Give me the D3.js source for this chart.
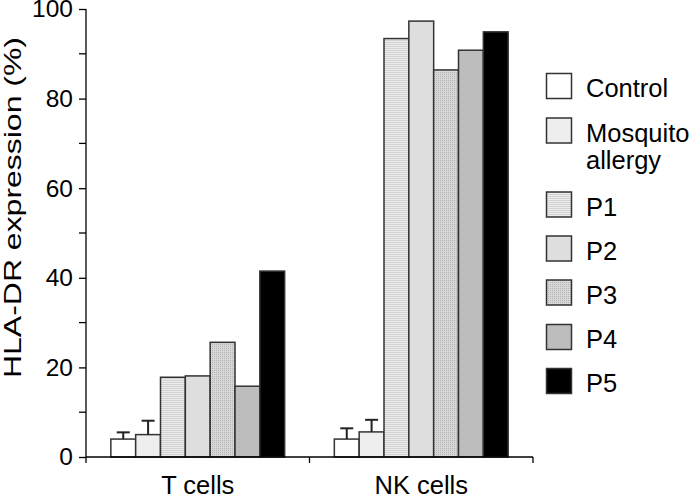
<!DOCTYPE html>
<html><head><meta charset="utf-8">
<script src="https://cdn.jsdelivr.net/npm/d3@7"></script>
<style>body{margin:0;background:#fff}svg{display:block}text{font-family:"Liberation Sans",Arial,sans-serif}</style>
</head><body><svg id="c" width="690" height="495"></svg>
<script>
const groups = ["T cells", "NK cells"];
const seriesNames = ["Control", "Mosquito allergy", "P1", "P2", "P3", "P4", "P5"];
const tCells = [4.0, 5.0, 17.8, 18.1, 25.6, 15.8, 41.5];
const nkCells = [4.0, 5.6, 93.4, 97.3, 86.4, 90.8, 94.9];
const tErrTop = [5.5, 8.1, null, null, null, null, null];
const nkErrTop = [6.4, 8.3, null, null, null, null, null];
const yTicks = [0, 20, 40, 60, 80, 100];
const yMinor = [10, 30, 50, 70, 90];

const fills = ["#ffffff", "#eeeeee", "url(#pStripe)", "#dedede", "url(#pGrid)", "#bdbdbd", "#000000"];

const svg = d3.select("#c");
const defs = svg.append("defs");
const p1 = defs.append("pattern").attr("id","pStripe").attr("patternUnits","userSpaceOnUse").attr("width",4).attr("height",2);
p1.append("rect").attr("width",4).attr("height",2).attr("fill","#ececec");
p1.append("rect").attr("width",4).attr("height",1).attr("fill","#d2d2d2");
const p3 = defs.append("pattern").attr("id","pGrid").attr("patternUnits","userSpaceOnUse").attr("width",2).attr("height",2);
p3.append("rect").attr("width",2).attr("height",2).attr("fill","#d8d8d8");
p3.append("rect").attr("width",1).attr("height",1).attr("fill","#b4b4b4");

const x0 = d3.scaleBand().domain(groups).range([86, 533]).paddingInner(0).paddingOuter(0);
const x1 = d3.scaleBand().domain(seriesNames).range([0, x0.bandwidth()]).paddingInner(0).paddingOuter(1.0);
const y = d3.scaleLinear().domain([0, 100]).range([457, 9]);

const data = [];
groups.forEach((g, gi) => {
  const vals = gi === 0 ? tCells : nkCells;
  const errs = gi === 0 ? tErrTop : nkErrTop;
  seriesNames.forEach((s, si) => data.push({g, s, si, v: vals[si], e: errs[si]}));
});

// bars
svg.append("g").selectAll("rect").data(data).join("rect")
  .attr("x", d => x0(d.g) + x1(d.s))
  .attr("y", d => y(d.v))
  .attr("width", x1.bandwidth())
  .attr("height", d => y(0) - y(d.v))
  .attr("fill", d => fills[d.si])
  .attr("stroke", "#333")
  .attr("stroke-width", 1.5);

// error bars
const eb = svg.append("g").attr("stroke", "#222").attr("stroke-width", 2);
data.filter(d => d.e != null).forEach(d => {
  const cx = x0(d.g) + x1(d.s) + x1.bandwidth() / 2;
  eb.append("line").attr("x1", cx).attr("x2", cx).attr("y1", y(d.v)).attr("y2", y(d.e));
  eb.append("line").attr("x1", cx - 6.5).attr("x2", cx + 6.5).attr("y1", y(d.e)).attr("y2", y(d.e));
});

// y axis
const yAxis = d3.axisLeft(y).tickValues(yTicks).tickSize(7).tickPadding(6);
const ya = svg.append("g").attr("transform", "translate(86,0)").call(yAxis);
ya.select(".domain").remove();
ya.append("line").attr("x1",0).attr("x2",0).attr("y1",y(100)).attr("y2",y(0)+6).attr("stroke","#000").attr("stroke-width",1.3);
ya.selectAll(".tick line").attr("stroke","#000").attr("stroke-width",1.3);
ya.selectAll(".tick text").attr("font-size", 24.5).attr("fill","#000").attr("font-family","Liberation Sans, Arial, sans-serif");
ya.append("g").selectAll("line").data(yMinor).join("line")
  .attr("x1", -7).attr("x2", 0).attr("y1", d => y(d)).attr("y2", d => y(d))
  .attr("stroke","#000").attr("stroke-width",1.3);

// x axis
const xa = svg.append("g");
xa.append("line").attr("x1",86).attr("x2",533).attr("y1",y(0)).attr("y2",y(0)).attr("stroke","#000").attr("stroke-width",1.3);
const boundaries = [x0(groups[1]), x0(groups[1]) + x0.bandwidth()];
xa.selectAll("line.tk").data(boundaries).join("line").attr("class","tk")
  .attr("x1", d => d).attr("x2", d => d).attr("y1", y(0)).attr("y2", y(0) + 6)
  .attr("stroke","#000").attr("stroke-width",1.3);
xa.selectAll("text").data(groups).join("text")
  .attr("x", d => x0(d) + x0.bandwidth() / 2).attr("y", 494)
  .attr("text-anchor","middle").attr("font-size",25.5).attr("fill","#000").text(d => d);

// y title
svg.append("text").attr("transform","translate(21,207.5) rotate(-90)")
  .attr("text-anchor","middle").attr("font-size",24.5)
  .attr("textLength",341).attr("lengthAdjust","spacingAndGlyphs")
  .attr("fill","#000")
  .text("HLA-DR expression (%)");

// legend
const legendRows = [
  {i:0, lines:["Control"], top:73.5},
  {i:1, lines:["Mosquito","allergy"], top:118},
  {i:2, lines:["P1"], top:192},
  {i:3, lines:["P2"], top:236},
  {i:4, lines:["P3"], top:280},
  {i:5, lines:["P4"], top:324.5},
  {i:6, lines:["P5"], top:368.5}
];
const lg = svg.append("g");
legendRows.forEach(r => {
  lg.append("rect").attr("x",546.5).attr("y",r.top).attr("width",25).attr("height",25)
    .attr("fill", fills[r.i]).attr("stroke","#333").attr("stroke-width",1.5);
  r.lines.forEach((t, li) => {
    lg.append("text").attr("x",586).attr("y", r.top + 23.5 + li * 27)
      .attr("font-size",25.5).attr("fill","#000").text(t);
  });
});
</script></body></html>
